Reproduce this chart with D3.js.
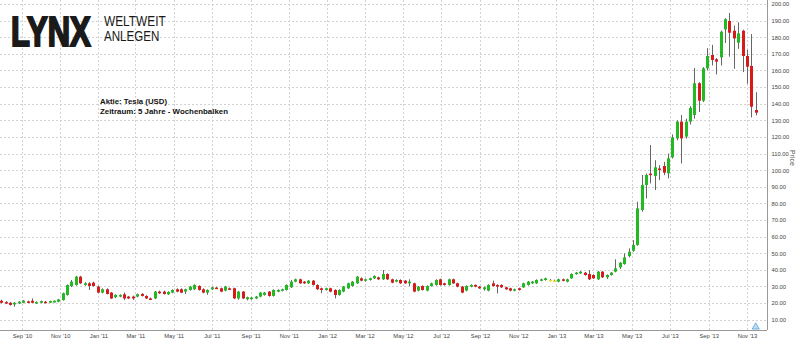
<!DOCTYPE html>
<html>
<head>
<meta charset="utf-8">
<script src="https://cdn.jsdelivr.net/npm/d3@7"></script>
<style>
  body { margin: 0; background: #fff; }
  svg { display: block; font-family: "Liberation Sans", Arial, sans-serif; }
</style>
</head>
<body>
<div id="chart"></div>
<script>
// weekly bars, one per Friday, first one Jul 30 2010
const firstWeek = Date.UTC(2010, 6, 30);

const opens = [
  21.4, 20.6, 20.2, 19.2, 19.8, 20.2, 21.0, 21.4, 19.9, 20.2, 20.8, 20.2, 20.4, 20.8, 21.8, 24.9, 30.3, 30.9, 35.9, 30.9,
  31.9, 32.3, 29.9, 26.3, 28.3, 26.3, 23.5, 23.9, 25.3, 23.9, 23.9, 23.9, 25.5, 24.3, 22.8, 22.8, 26.9, 26.9, 25.3, 26.3,
  28.3, 28.3, 26.9, 27.9, 28.3, 30.3, 28.3, 26.3, 28.3, 29.3, 28.9, 27.5, 28.9, 28.9, 22.8, 26.9, 22.3, 22.8, 22.8, 23.9,
  24.9, 26.9, 24.3, 26.9, 27.5, 27.9, 29.5, 32.9, 34.3, 32.9, 31.9, 33.5, 30.9, 28.9, 27.9, 28.9, 27.9, 24.9, 26.9, 28.9,
  30.3, 31.9, 34.9, 33.5, 33.9, 34.9, 35.5, 34.3, 37.5, 34.3, 32.9, 33.9, 33.5, 31.9, 31.9, 27.5, 30.3, 27.5, 30.3, 30.9,
  34.3, 31.9, 30.9, 34.3, 31.9, 29.9, 27.5, 29.9, 30.9, 29.9, 28.3, 27.5, 31.9, 30.9, 30.9, 29.5, 28.9, 27.5, 28.9, 29.5,
  30.9, 31.9, 31.9, 33.5, 33.9, 33.9, 33.5, 32.9, 34.3, 32.9, 34.9, 37.5, 37.9, 38.3, 37.5, 36.9, 34.3, 38.9, 35.5, 36.9,
  38.9, 41.5, 43.5, 48.3, 51.5, 55.0, 76.0, 91.1, 97.9, 96.5, 101.0, 102.5, 98.1, 107.7, 119.1, 129.2, 120.2, 129.2, 133.2, 152.3,
  141.8, 161.3, 169.3, 166.7, 167.9, 184.7, 189.8, 183.9, 176.7, 183.9, 168.7, 162.7, 136.2
];
const highs = [
  22.0, 21.2, 20.6, 20.6, 21.2, 21.8, 21.5, 22.8, 21.0, 21.5, 21.3, 21.5, 21.6, 22.5, 26.3, 31.2, 33.9, 36.4, 36.4, 32.6,
  32.6, 32.9, 30.4, 28.9, 28.9, 26.7, 25.3, 25.3, 26.3, 24.3, 24.5, 25.7, 26.0, 24.7, 23.3, 27.3, 27.5, 27.5, 27.1, 28.3,
  28.9, 28.9, 28.7, 30.3, 31.3, 30.7, 28.9, 28.3, 29.9, 29.7, 29.3, 30.3, 29.3, 29.3, 27.3, 27.3, 23.9, 23.7, 24.3, 26.7,
  26.7, 27.3, 28.3, 28.3, 28.7, 31.3, 33.9, 34.7, 34.7, 33.3, 33.9, 33.9, 31.3, 29.3, 29.3, 29.3, 28.3, 28.3, 30.3, 32.3,
  33.3, 36.3, 35.5, 34.7, 35.3, 36.7, 35.9, 39.9, 37.9, 34.7, 34.3, 34.3, 33.9, 34.3, 32.3, 30.3, 30.7, 30.7, 32.3, 34.3,
  34.7, 32.3, 34.7, 34.7, 32.3, 30.3, 30.7, 31.3, 31.3, 30.3, 29.9, 31.3, 33.5, 31.3, 31.3, 29.9, 29.3, 28.7, 29.3, 32.3,
  33.3, 33.3, 34.3, 34.7, 35.3, 34.5, 34.1, 34.7, 34.7, 34.7, 37.9, 38.7, 39.3, 38.7, 39.9, 37.3, 39.3, 39.3, 37.3, 38.7,
  46.3, 44.7, 49.9, 52.9, 57.9, 81.0, 97.0, 98.0, 115.1, 106.0, 103.0, 105.0, 110.0, 121.5, 130.0, 133.2, 131.0, 138.5, 161.5, 153.0,
  162.0, 173.4, 175.4, 167.5, 184.0, 191.5, 194.6, 187.0, 189.0, 184.5, 172.4, 181.9, 146.9
];
const lows = [
  19.8, 19.6, 18.5, 17.8, 19.4, 19.9, 19.9, 20.0, 19.5, 19.9, 19.9, 20.0, 20.2, 20.5, 21.5, 24.5, 29.6, 30.5, 31.5, 30.4,
  27.9, 29.9, 25.9, 25.9, 25.2, 22.4, 23.0, 23.5, 21.8, 22.4, 21.8, 23.5, 23.9, 22.4, 21.8, 22.4, 25.5, 25.1, 24.9, 25.9,
  26.5, 25.9, 25.5, 27.5, 27.9, 27.5, 25.9, 25.0, 27.9, 28.4, 26.5, 27.1, 27.9, 22.4, 22.0, 22.4, 21.6, 22.0, 22.4, 23.5,
  24.5, 23.9, 23.9, 26.5, 27.1, 27.5, 29.1, 32.5, 31.5, 31.5, 31.5, 30.5, 27.9, 25.9, 27.5, 26.5, 22.8, 24.5, 26.5, 28.5,
  29.9, 31.5, 33.1, 32.9, 33.5, 34.5, 33.9, 33.9, 33.9, 31.9, 32.5, 31.5, 31.5, 30.3, 26.5, 27.1, 27.5, 27.1, 29.9, 30.5,
  30.5, 30.5, 30.5, 31.5, 29.5, 25.9, 27.1, 29.5, 29.5, 28.5, 27.5, 27.1, 29.9, 25.9, 29.1, 27.9, 27.1, 27.1, 27.5, 29.1,
  30.5, 31.5, 31.5, 33.1, 33.5, 33.3, 32.9, 32.5, 33.1, 32.5, 34.5, 37.1, 37.5, 36.5, 33.9, 34.5, 33.9, 35.1, 34.5, 36.5,
  38.5, 40.5, 43.1, 47.5, 50.9, 54.5, 75.0, 83.0, 92.0, 88.0, 94.0, 97.0, 95.0, 107.0, 118.0, 104.0, 119.0, 127.5, 131.0, 135.0,
  141.0, 160.0, 163.0, 157.6, 163.0, 176.5, 168.3, 161.0, 173.0, 159.0, 152.0, 131.8, 133.0
];
const closes = [
  20.2, 20.0, 18.9, 20.2, 20.8, 21.4, 20.2, 20.2, 20.6, 21.2, 20.2, 21.2, 21.4, 22.2, 25.9, 30.9, 32.9, 35.9, 31.9, 31.9,
  30.3, 30.3, 26.3, 28.3, 25.5, 22.8, 24.9, 24.9, 22.8, 22.8, 22.8, 25.3, 24.3, 22.8, 22.2, 26.9, 25.9, 25.5, 26.7, 27.9,
  26.9, 26.3, 28.3, 29.9, 30.9, 27.9, 26.3, 27.9, 29.5, 28.8, 26.9, 29.9, 28.3, 22.8, 26.9, 22.8, 23.5, 23.3, 23.9, 26.3,
  26.3, 24.3, 27.9, 27.9, 28.3, 30.9, 32.9, 34.3, 31.9, 31.9, 33.5, 30.9, 28.3, 27.9, 28.9, 26.9, 24.9, 27.9, 29.9, 31.9,
  32.9, 35.9, 33.5, 34.3, 34.9, 36.3, 34.3, 37.5, 34.3, 32.3, 33.9, 31.9, 31.9, 32.9, 26.9, 29.9, 27.9, 30.3, 31.9, 33.9,
  30.9, 30.9, 34.3, 31.9, 29.9, 26.3, 30.3, 30.9, 29.9, 28.9, 29.5, 30.9, 30.3, 29.9, 29.5, 28.3, 27.5, 28.3, 27.9, 31.9,
  32.9, 32.9, 33.9, 34.3, 34.9, 33.9, 33.6, 34.3, 33.5, 34.3, 37.5, 38.3, 38.9, 36.9, 34.3, 34.9, 38.9, 35.5, 36.9, 38.3,
  40.9, 44.3, 47.5, 50.9, 54.9, 77.0, 91.1, 97.1, 97.4, 101.7, 100.3, 98.5, 107.1, 119.7, 129.2, 119.1, 129.2, 137.5, 152.3, 141.8,
  161.3, 168.7, 166.3, 165.3, 183.3, 190.8, 182.7, 179.3, 182.3, 168.7, 162.3, 138.2, 134.6
];
// two near-flat weeks around new year 2013 are drawn yellow in the original
const yellowWeeks = [125, 126];

const yTicks = [10, 20, 30, 40, 50, 60, 70, 80, 90, 100, 110, 120, 130, 140, 150, 160, 170, 180, 190, 200];
const xTicks = ['2010-09-01', '2010-11-01', '2011-01-01', '2011-03-01', '2011-05-01', '2011-07-01', '2011-09-01',
  '2011-11-01', '2012-01-01', '2012-03-01', '2012-05-01', '2012-07-01', '2012-09-01', '2012-11-01', '2013-01-01',
  '2013-03-01', '2013-05-01', '2013-07-01', '2013-09-01', '2013-11-01'];

const width = 800, height = 340;
const plotRight = 767, plotBottom = 330;

const bars = opens.map((o, i) => ({
  date: new Date(firstWeek + i * 7 * 864e5),
  open: o, high: highs[i], low: lows[i], close: closes[i],
  yellow: yellowWeeks.includes(i)
}));

const x = d3.scaleUtc()
  .domain([new Date(Date.UTC(2010, 6, 28)), new Date(Date.UTC(2013, 11, 3))])
  .range([0, plotRight]);
const y = d3.scaleLinear().domain([3.8, 202.4]).range([plotBottom, 0]);

const svg = d3.select('#chart').append('svg')
  .attr('width', width)
  .attr('height', height)
  .attr('viewBox', [0, 0, width, height]);

// grid
const grid = svg.append('g')
  .attr('stroke', '#d2d2d2')
  .attr('stroke-dasharray', '2,2')
  .attr('shape-rendering', 'crispEdges');
grid.selectAll('line.h').data(yTicks).join('line')
  .attr('class', 'h')
  .attr('x1', 0).attr('x2', plotRight)
  .attr('y1', d => Math.round(y(d)) + 0.5).attr('y2', d => Math.round(y(d)) + 0.5);
const xTickDates = xTicks.map(s => new Date(s + 'T00:00:00Z'));
grid.selectAll('line.v').data(xTickDates).join('line')
  .attr('class', 'v')
  .attr('y1', 0).attr('y2', plotBottom)
  .attr('x1', d => Math.round(x(d)) + 0.5).attr('x2', d => Math.round(x(d)) + 0.5);

// logo, squeezed horizontally so it looks like a condensed face
const logo = svg.append('g').attr('fill', '#1a1a1a');
logo.append('text')
  .attr('transform', 'translate(11,45.5) scale(0.72,1)')
  .attr('font-size', 43).attr('font-weight', 'bold')
  .attr('stroke', '#1a1a1a').attr('stroke-width', 2.2)
  .text('LYNX');
logo.append('text')
  .attr('transform', 'translate(104,25.5) scale(0.86,1)')
  .attr('font-size', 13.8)
  .text('WELTWEIT');
logo.append('text')
  .attr('transform', 'translate(104,41) scale(0.84,1)')
  .attr('font-size', 13.8)
  .text('ANLEGEN');

// caption
const caption = svg.append('g')
  .attr('font-size', 7.5).attr('font-weight', 'bold').attr('fill', '#111');
caption.append('text').attr('x', 100).attr('y', 103.5)
  .attr('textLength', 67).attr('lengthAdjust', 'spacingAndGlyphs')
  .text('Aktie: Tesla (USD)');
caption.append('text').attr('x', 100).attr('y', 113.5)
  .attr('textLength', 128).attr('lengthAdjust', 'spacingAndGlyphs')
  .text('Zeitraum: 5 Jahre - Wochenbalken');

// candles
const colorOf = d => d.yellow ? '#e8e020' : (d.close >= d.open ? '#22b922' : '#d91a1a');

const candles = svg.append('g').selectAll('g').data(bars).join('g');
candles.append('line')
  .attr('x1', d => Math.round(x(d.date)) + 0.5)
  .attr('x2', d => Math.round(x(d.date)) + 0.5)
  .attr('y1', d => y(d.high))
  .attr('y2', d => y(d.low))
  .attr('stroke', '#666')
  .attr('stroke-width', 1);
candles.append('rect')
  .attr('x', d => Math.round(x(d.date)) - 1)
  .attr('width', 3)
  .attr('y', d => y(Math.max(d.open, d.close)))
  .attr('height', d => Math.max(1.5, Math.abs(y(d.open) - y(d.close))))
  .attr('fill', colorOf);

// axes
const yAxis = svg.append('g')
  .attr('transform', `translate(${plotRight + 0.5},0)`)
  .call(d3.axisRight(y).tickValues(yTicks).tickFormat(d3.format('.2f')).tickSize(0).tickPadding(4));
yAxis.select('.domain').attr('stroke', '#999').attr('d', `M0,0V${plotBottom}`);
yAxis.selectAll('text').attr('font-size', 5.8).attr('fill', '#444');

const xAxis = svg.append('g')
  .attr('transform', `translate(0,${plotBottom + 0.5})`)
  .call(d3.axisBottom(x).tickValues(xTickDates).tickFormat(d3.utcFormat("%b '%y")).tickSize(0).tickPadding(3));
xAxis.select('.domain').attr('stroke', '#999').attr('d', `M0,0H${plotRight}`);
xAxis.selectAll('text').attr('font-size', 5.8).attr('fill', '#444');

svg.append('text')
  .attr('transform', 'translate(790,150) rotate(90)')
  .attr('font-size', 7).attr('fill', '#555')
  .text('Price');

// small event marker at the bottom right
svg.append('path')
  .attr('d', d3.symbol(d3.symbolTriangle, 22)())
  .attr('transform', `translate(${x(new Date(Date.UTC(2013, 10, 15)))},${plotBottom - 3})`)
  .attr('fill', '#b9ddf5')
  .attr('stroke', '#5a9fd4')
  .attr('stroke-width', 0.8);
</script>
</body>
</html>
